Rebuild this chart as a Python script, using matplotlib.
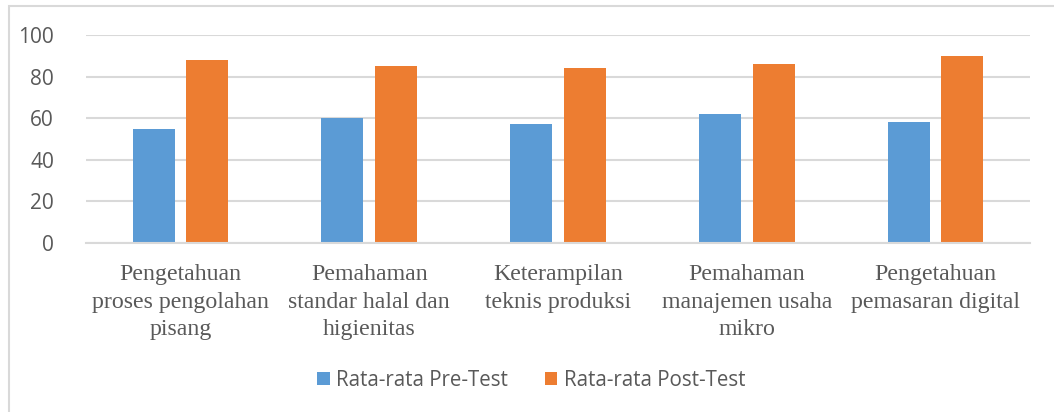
import matplotlib
matplotlib.use("Agg")
import matplotlib.pyplot as plt
import numpy as np
from matplotlib.patches import Rectangle

categories = [
    "Pengetahuan\nproses pengolahan\npisang",
    "Pemahaman\nstandar halal dan\nhigienitas",
    "Keterampilan\nteknis produksi",
    "Pemahaman\nmanajemen usaha\nmikro",
    "Pengetahuan\npemasaran digital",
]
pre_test = [55, 60, 57, 62, 58]
post_test = [88, 85, 84, 86, 90]
series_names = ["Rata-rata Pre-Test", "Rata-rata Post-Test"]
yticks = [0, 20, 40, 60, 80, 100]

W, H = 1054, 412
fig = plt.figure(figsize=(W / 100, H / 100), dpi=100)
fig.patch.set_facecolor("white")

# chart frame
fig.patches.append(Rectangle((9 / W, -0.1), 1.2, (H - 5.5) / H + 0.1,
                             transform=fig.transFigure, fill=False,
                             edgecolor="#D9D9D9", lw=1.5))

ax = fig.add_axes([86 / W, (H - 243) / H, (1030 - 86) / W, (243 - 35) / H])
x = np.arange(len(categories))
w = 0.222
off = 0.142
ax.bar(x - off, pre_test, w, color="#5B9BD5", label=series_names[0], zorder=3)
ax.bar(x + off, post_test, w, color="#ED7D31", label=series_names[1], zorder=3)

ax.set_xlim(-0.5, len(categories) - 0.5)
ax.set_ylim(0, 100)
ax.set_yticks(yticks)
ax.set_yticklabels([str(v) for v in yticks], fontfamily="Open Sans",
                   fontsize=15, color="#595959")
ax.yaxis.grid(True, color="#D9D9D9", lw=1.5, zorder=0)
ax.set_axisbelow(True)
ax.tick_params(axis="y", length=0, pad=23)
ax.tick_params(axis="x", length=0, pad=15)
ax.set_xticks(x)
ax.set_xticklabels(categories, fontfamily="Liberation Serif", fontsize=17.2,
                   color="#595959", linespacing=1.42)
for s in ["top", "right", "left"]:
    ax.spines[s].set_visible(False)
ax.spines["bottom"].set_color("#D9D9D9")
ax.spines["bottom"].set_linewidth(1.5)
ax.spines["bottom"].set_zorder(4)

leg = fig.legend(loc="center", bbox_to_anchor=(531 / W, (H - 380) / H), ncol=2,
                 frameon=False, prop={"family": "Open Sans", "size": 14.8},
                 handlelength=0.62, handleheight=0.62, handletextpad=0.3,
                 columnspacing=1.8, labelcolor="#595959")

fig.savefig("out.png", dpi=100, facecolor="white")
